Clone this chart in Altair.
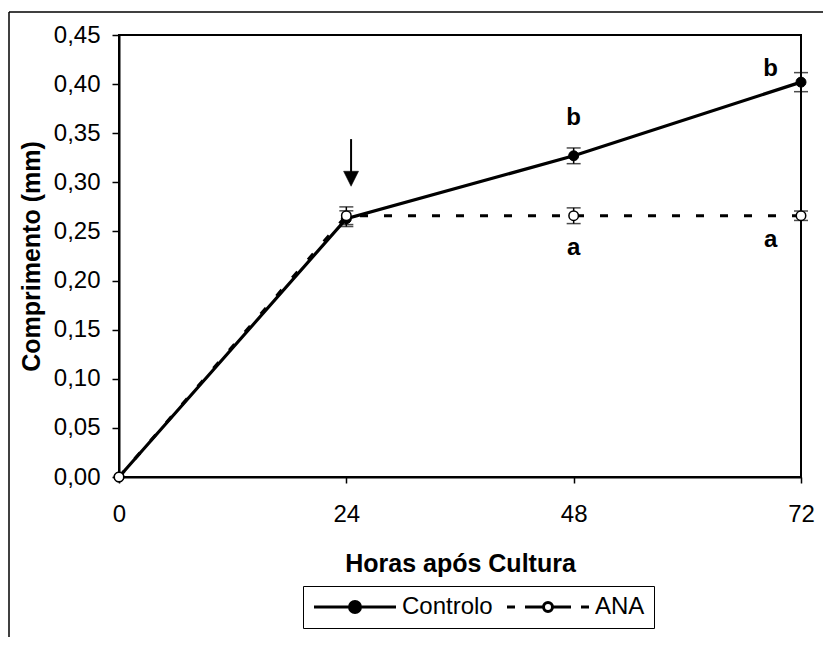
import altair as alt
import pandas as pd

# ---- data ----
hours = [0, 24, 48, 72]
controlo = [0.0, 0.263, 0.327, 0.402]
controlo_err = [0.0, 0.008, 0.008, 0.0097]
ana = [0.0, 0.266, 0.266, 0.266]
ana_err = [0.0, 0.009, 0.008, 0.0048]
series_names = ["Controlo", "ANA"]

x_ticks = [0, 24, 48, 72]
y_ticks = [0.0, 0.05, 0.10, 0.15, 0.20, 0.25, 0.30, 0.35, 0.40, 0.45]

letters = ["b", "b", "a", "a"]
letter_hours = [48, 68.8, 48, 68.8]
letter_values = [0.365, 0.415, 0.233, 0.2415]

arrow_hour = [24.5]
arrow_top = [0.344]
arrow_tip = [0.296]

FONT = "Liberation Sans"

rows = []
for h, v, e in zip(hours, controlo, controlo_err):
    rows.append({"hour": h, "value": v, "err": e, "series": "Controlo"})
for h, v, e in zip(hours, ana, ana_err):
    rows.append({"hour": h, "value": v, "err": e, "series": "ANA"})
df = pd.DataFrame(rows)
df["lo"] = df["value"] - df["err"]
df["hi"] = df["value"] + df["err"]

df_letters = pd.DataFrame({"hour": letter_hours, "value": letter_values, "txt": letters})
df_arrow = pd.DataFrame({"hour": arrow_hour, "value": arrow_top, "tip": arrow_tip})
df_arrow["shaft_end"] = df_arrow["tip"] + 0.012

xscale = alt.Scale(domain=[0, 72], nice=False, zero=False)
yscale = alt.Scale(domain=[0, 0.45], nice=False, zero=False)

x_axis = alt.Axis(values=x_ticks, title="Horas após Cultura", labelFlush=False,
                  labelPadding=19, titlePadding=25, tickSize=6)
y_axis = alt.Axis(values=y_ticks, title="Comprimento (mm)", labelFlush=False,
                  labelExpr="replace(format(datum.value, '.2f'), '.', ',')",
                  labelPadding=12, titlePadding=9, tickSize=7)


def X(field="hour"):
    return alt.X(f"{field}:Q", scale=xscale, axis=x_axis)


def Y(field="value"):
    return alt.Y(f"{field}:Q", scale=yscale, axis=y_axis)


base = alt.Chart(df)

line_c = base.transform_filter("datum.series == 'Controlo'").mark_line(
    color="black", strokeWidth=3.2).encode(x=X(), y=Y())
line_a = base.transform_filter("datum.series == 'ANA'").mark_line(
    color="black", strokeWidth=3.2, strokeDash=[8, 16]).encode(x=X(), y=Y())

err_df = base.transform_filter("datum.err > 0")
err_rule = err_df.mark_rule(color="black", strokeWidth=1.5).encode(
    x=X(), y=Y("lo"), y2="hi:Q")
err_caps = err_df.transform_fold(["lo", "hi"], as_=["k", "capv"]).mark_tick(
    color="black", orient="horizontal", size=14, thickness=1.5).encode(
    x=X(), y=Y("capv"))

pts_c = base.transform_filter("datum.series == 'Controlo'").mark_point(
    filled=True, fill="black", stroke="black", strokeWidth=1, size=100, shape="circle",
    opacity=1).encode(x=X(), y=Y())
pts_a = base.transform_filter("datum.series == 'ANA'").mark_point(
    filled=True, fill="white", stroke="black", strokeWidth=1.5, size=90, shape="circle",
    opacity=1).encode(x=X(), y=Y())

txt = alt.Chart(df_letters).mark_text(
    font=FONT, fontSize=24, fontWeight="bold", color="black").encode(
    x=X(), y=Y(), text="txt:N")

arrow_shaft = alt.Chart(df_arrow).mark_rule(color="black", strokeWidth=2).encode(
    x=X(), y=Y(), y2="shaft_end:Q")
arrow_head = alt.Chart(df_arrow).mark_point(
    filled=True, fill="black", stroke="black", strokeWidth=0.5, opacity=1,
    shape="M-1,-2L1,-2L0,0Z", size=225).encode(x=X(), y=Y("tip"))

# legend carrier (no visible marks)
path_c = "M-4.1,0H4.1M0.55,0A0.55,0.55,0,1,1,-0.55,0A0.55,0.55,0,1,1,0.55,0Z"
path_a = ("M-4.1,0H-3.3M-2.3,0H-0.45M0.45,0H2.3M3.3,0H4.1"
          "M0.45,0A0.45,0.45,0,1,1,-0.45,0A0.45,0.45,0,1,1,0.45,0Z")
leg = alt.Legend(orient="none", legendX=184, legendY=551, direction="horizontal",
                 title=None, symbolSize=400, symbolOffset=31, labelOffset=35,
                 symbolStrokeColor="black", symbolStrokeWidth=3,
                 strokeColor="black", fillColor="white", padding=9,
                 labelFont=FONT, labelFontSize=24, labelColor="black",
                 columnPadding=8)
legend_layer = base.transform_filter("false").mark_point(
    filled=True, stroke="black", strokeWidth=3, size=400, opacity=1).encode(
    x=X(), y=Y(),
    shape=alt.Shape("series:N", scale=alt.Scale(domain=series_names, range=[path_c, path_a]), legend=leg),
    fill=alt.Fill("series:N", scale=alt.Scale(domain=series_names, range=["black", "white"]), legend=leg),
    stroke=alt.Stroke("series:N", scale=alt.Scale(domain=series_names, range=["black", "black"]), legend=leg),
)

# outer frame of the figure
one = alt.Chart(pd.DataFrame({"d": [0]}))
frame_left = one.mark_rule(color="black", strokeWidth=1.5).encode(
    x=alt.value(-110), y=alt.value(-23), y2=alt.value(800))
frame_top = one.mark_rule(color="black", strokeWidth=1.5).encode(
    x=alt.value(-110), x2=alt.value(900), y=alt.value(-23))

chart = alt.layer(
    line_c, line_a, err_rule, err_caps, pts_c, pts_a, txt, arrow_shaft, arrow_head,
    legend_layer, frame_left, frame_top
).properties(
    width=682, height=442,
    padding={"left": 111, "top": 27, "right": 22, "bottom": 160},
    autosize=alt.AutoSizeParams(type="none"),
    background="white",
).configure_axis(
    labelFont=FONT, labelFontSize=24, labelColor="black",
    titleFont=FONT, titleFontSize=25, titleFontWeight="bold", titleColor="black",
    domainColor="black", domainWidth=2, tickColor="black", tickWidth=1.5, grid=False,
).configure_view(stroke="black", strokeWidth=2)

chart.save("out.html", embed_options={"renderer": "svg", "actions": False})
